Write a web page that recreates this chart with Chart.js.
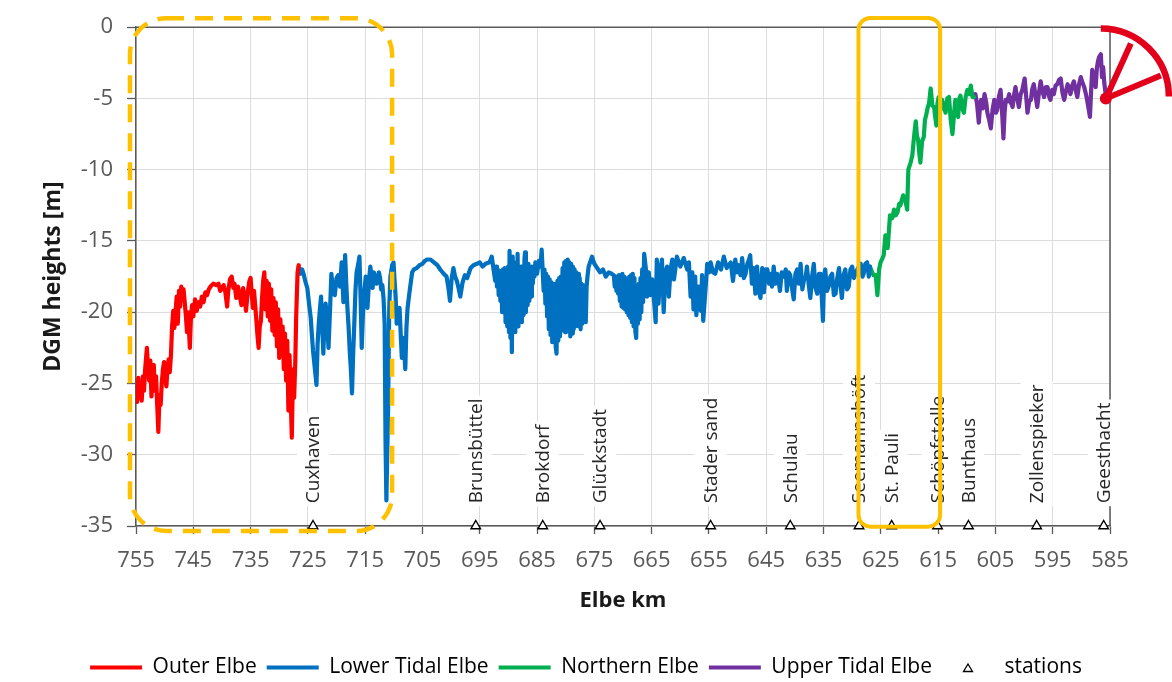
<!DOCTYPE html>
<html>
<head>
<meta charset="utf-8">
<script src="https://cdn.jsdelivr.net/npm/chart.js@4.4.1/dist/chart.umd.min.js"></script>
<style>
  html, body { margin: 0; padding: 0; background: #fff; }
  #wrap { width: 1172px; height: 682px; }
</style>
</head>
<body>
<div id="wrap"><canvas id="c" width="1172" height="682"></canvas></div>
<script>
const FONT = "'Open Sans', 'Noto Sans', sans-serif";

// [Elbe km, DGM height m]
const outerElbe = [
  [755,-25.0],[754.8,-26.3],[754.6,-24.6],[754.4,-26.0],[754.2,-25.0],[754.0,-26.2],[753.8,-24.5],[753.6,-25.5],
  [753.4,-24.0],[753.1,-22.5],[752.9,-23.8],[752.7,-24.8],[752.5,-23.4],[752.3,-25.9],[752.1,-24.0],[751.9,-23.7],
  [751.7,-25.5],[751.5,-24.5],[751.3,-26.5],[751.1,-28.4],[750.9,-25.8],[750.7,-26.5],[750.5,-25.0],[750.3,-24.0],
  [750.1,-23.5],[749.9,-24.6],[749.7,-25.2],[749.5,-24.0],[749.3,-23.3],[749.1,-24.2],[748.9,-23.0],[748.7,-21.0],
  [748.5,-19.9],[748.3,-21.1],[748.1,-20.0],[747.9,-18.9],[747.7,-20.8],[747.5,-18.5],[747.3,-19.6],[747.1,-18.2],
  [746.9,-19.0],[746.7,-18.4],[746.5,-19.3],[746.3,-20.2],[746.1,-21.4],[745.9,-20.0],[745.6,-22.5],[745.4,-20.2],
  [745.2,-19.5],[745.0,-20.3],[744.7,-19.1],[744.4,-19.9],[744.1,-19.3],[743.8,-19.6],[743.5,-18.9],[743.2,-19.3],
  [742.9,-18.6],[742.6,-18.8],[742.3,-18.4],[742.0,-18.2],[741.5,-18.0],[741.0,-18.1],[740.6,-18.0],[740.3,-18.5],
  [740.0,-18.3],[739.7,-18.1],[739.4,-18.6],[739.1,-19.6],[738.9,-18.5],[738.6,-17.7],[738.3,-17.5],[738.0,-18.3],
  [737.8,-18.0],[737.5,-19.0],[737.2,-18.2],[736.9,-18.8],[736.6,-19.5],[736.3,-18.3],[736.0,-19.2],[735.8,-19.9],
  [735.5,-18.6],[735.2,-17.8],[735.0,-17.6],[734.8,-18.7],[734.6,-19.7],[734.4,-18.5],[734.2,-19.5],[734.0,-20.5],
  [733.8,-21.6],[733.6,-22.5],[733.4,-21.0],[733.2,-20.6],[733.0,-19.0],[732.8,-17.8],[732.6,-17.2],[732.4,-19.8],
  [732.2,-17.8],[732.0,-20.3],[731.8,-18.0],[731.6,-20.6],[731.4,-18.4],[731.2,-21.3],[731.0,-19.0],[730.8,-21.6],
  [730.6,-19.3],[730.4,-22.4],[730.2,-19.8],[730.0,-23.2],[729.8,-20.5],[729.6,-23.0],[729.4,-21.0],[729.2,-24.0],
  [729.0,-21.5],[728.8,-24.8],[728.6,-22.0],[728.4,-26.9],[728.2,-23.0],[728.0,-26.0],[727.8,-28.8],[727.6,-24.0],
  [727.4,-26.0],[727.2,-23.5],[727.05,-20.4],[726.8,-17.2],[726.6,-16.7]
];

const lowerTidalElbe = [
  [726.6,-16.8],[726.3,-17.3],[726.0,-17.0],[725.7,-17.4],[725.4,-17.9],[725.1,-18.3],[724.8,-19.4],[724.5,-20.4],
  [724.3,-21.6],[724.1,-22.7],[723.8,-23.9],[723.5,-25.1],[723.3,-22.2],[723.1,-20.8],[722.9,-19.8],[722.7,-18.9],
  [722.5,-21.0],[722.3,-22.9],[722.1,-20.5],[721.9,-19.4],[721.6,-21.0],[721.4,-22.5],[721.1,-19.5],[720.9,-17.3],
  [720.6,-18.6],[720.3,-18.8],[720.0,-17.6],[719.7,-17.4],[719.4,-18.2],[719.1,-16.5],[718.8,-19.3],[718.5,-16.0],
  [718.3,-18.0],[718.1,-19.7],[717.9,-21.0],[717.7,-22.7],[717.5,-24.0],[717.3,-25.7],[717.1,-23.0],[716.9,-20.8],
  [716.7,-18.5],[716.5,-17.2],[716.2,-16.6],[716.0,-16.1],[715.8,-19.0],[715.6,-22.5],[715.4,-20.2],[715.2,-18.8],
  [714.9,-17.5],[714.6,-19.7],[714.3,-17.6],[714.1,-16.8],[713.9,-17.5],[713.7,-18.3],[713.5,-17.2],[713.3,-17.4],
  [713.0,-18.0],[712.8,-17.8],[712.6,-17.2],[712.4,-17.6],[712.2,-18.4],[712.0,-18.1],[711.8,-19.0],[711.6,-20.8],
  [711.45,-29.0],[711.3,-33.2],[711.15,-30.0],[711.0,-26.8],[710.8,-19.7],[710.6,-17.5],[710.3,-16.7],[710.05,-16.5],
  [709.9,-17.6],[709.7,-18.8],[709.5,-20.8],[709.2,-19.9],[709.0,-19.7],[708.8,-21.5],[708.6,-23.2],[708.4,-21.8],
  [708.2,-22.5],[708.0,-24.0],[707.8,-21.1],[707.6,-19.7],[707.3,-18.7],[707.1,-18.1],[706.8,-17.2],[706.5,-17.0],
  [706.0,-16.9],[705.5,-16.7],[705.0,-16.6],[704.6,-16.4],[704.2,-16.3],[703.6,-16.3],[703.0,-16.5],[702.4,-16.7],
  [701.9,-17.0],[701.3,-17.3],[700.8,-17.5],[700.5,-18.2],[700.2,-19.2],[699.9,-17.6],[699.6,-16.9],[699.3,-17.5],
  [699.0,-17.8],[698.7,-18.3],[698.4,-18.9],[698.0,-17.9],[697.6,-17.4],[697.2,-17.6],[696.6,-16.9],[696.1,-16.7],
  [695.5,-16.6],[695.0,-16.5],[694.5,-16.8],[694.0,-16.6],[693.3,-16.5],[692.9,-16.1],[692.6,-17.0],
  [692.30,-17.8],[692.15,-16.8],[692.00,-18.2],[691.85,-17.0],[691.70,-18.8],[691.55,-17.3],[691.40,-19.2],[691.25,-17.1],
  [691.10,-20.0],[690.95,-17.0],[690.80,-19.6],[690.65,-16.9],[690.50,-20.7],[690.35,-17.2],[690.20,-21.0],[690.05,-16.8],
  [689.90,-21.4],[689.80,-15.7],[689.65,-21.8],[689.50,-17.0],[689.40,-22.8],[689.25,-16.1],[689.10,-21.3],[688.95,-17.2],
  [688.80,-21.4],[688.65,-16.5],[688.50,-20.8],[688.40,-15.9],[688.25,-21.0],[688.10,-17.0],[687.95,-20.6],[687.80,-16.8],
  [687.65,-20.7],[687.50,-16.9],[687.35,-20.2],[687.20,-16.3],[687.10,-15.8],[686.95,-20.0],[686.80,-16.9],[686.65,-19.5],
  [686.50,-16.6],[686.35,-19.2],[686.20,-16.9],[686.05,-18.9],[685.90,-16.8],[685.75,-18.0],[685.60,-17.0],[685.45,-17.5],
  [685.30,-16.5],[685.0,-17.3],[684.7,-16.4],[684.4,-16.8],[684.2,-15.6],
  [684.00,-17.2],[683.85,-18.5],[683.70,-17.0],[683.55,-19.4],[683.40,-17.3],[683.25,-20.3],[683.10,-17.5],[682.95,-21.2],
  [682.80,-17.7],[682.65,-21.6],[682.50,-17.9],[682.35,-22.1],[682.20,-18.0],[682.05,-22.0],[681.90,-18.2],[681.75,-22.4],
  [681.60,-22.9],[681.45,-17.8],[681.30,-22.0],[681.15,-17.6],[681.00,-21.7],[680.85,-17.5],[680.70,-21.3],[680.55,-16.9],
  [680.40,-21.0],[680.25,-16.5],[680.10,-21.4],[679.95,-16.4],[679.80,-21.2],[679.65,-16.3],[679.50,-21.3],[679.35,-16.5],
  [679.20,-21.7],[679.05,-16.6],[678.90,-21.5],[678.75,-16.8],[678.60,-21.2],[678.45,-17.0],[678.30,-21.0],[678.15,-17.2],
  [678.00,-20.8],[677.85,-17.3],[677.70,-21.0],[677.55,-17.6],[677.40,-21.2],[677.25,-18.0],[677.10,-20.8],[676.95,-18.1],
  [676.80,-20.5],[676.65,-18.2],[676.50,-20.7],[676.35,-18.2],[676.20,-17.5],[676.0,-16.8],[675.4,-16.1],
  [675.0,-16.6],[674.5,-16.9],[674.0,-17.2],[673.5,-17.0],[673.0,-17.5],[672.5,-17.2],[672.0,-17.3],
  [671.60,-17.4],[671.45,-18.2],[671.30,-17.5],[671.15,-18.5],[671.00,-17.5],[670.85,-18.7],[670.70,-17.4],[670.55,-19.2],
  [670.40,-17.4],[670.25,-19.6],[670.10,-17.3],[669.95,-19.7],[669.80,-17.5],[669.65,-19.8],[669.50,-17.6],[669.35,-20.0],
  [669.20,-17.7],[669.05,-20.2],[668.90,-17.5],[668.75,-20.4],[668.60,-17.4],[668.45,-20.7],[668.30,-17.3],[668.15,-21.0],
  [668.00,-17.6],[667.85,-21.3],[667.70,-21.8],[667.55,-18.2],[667.40,-20.8],[667.25,-18.0],[667.10,-20.5],[666.95,-17.6],
  [666.80,-20.0],[666.65,-17.0],[666.50,-19.3],[666.30,-15.9],
  [666.0,-17.0],[665.8,-18.9],[665.5,-17.2],[665.2,-18.8],[664.9,-17.7],[664.6,-19.1],[664.3,-20.7],[664.1,-16.3],
  [663.8,-19.4],[663.5,-17.0],[663.2,-16.3],[662.9,-20.0],[662.6,-17.2],[662.3,-16.8],[662.0,-18.9],[661.7,-17.0],
  [661.4,-16.3],[661.1,-17.7],[660.6,-16.1],[660.0,-16.8],[659.4,-16.2],[658.8,-17.0],[658.5,-16.5],[658.2,-18.9],
  [657.9,-17.2],[657.7,-19.8],[657.4,-17.5],[657.2,-20.2],[656.8,-18.2],[656.4,-19.9],[656.2,-17.4],[656.0,-20.6],
  [655.6,-18.4],[655.3,-16.6],[655.0,-17.2],[654.7,-16.5],[654.3,-17.2],[653.9,-17.3],[653.4,-16.5],[652.9,-17.0],
  [652.4,-16.1],[651.9,-16.9],[651.2,-16.5],[650.8,-17.8],[650.4,-16.3],[650.1,-17.2],[649.8,-16.7],[649.5,-17.4],
  [649.2,-16.2],[648.9,-17.6],[648.6,-17.3],[648.3,-16.6],[648.0,-16.3],[647.8,-16.0],[647.5,-18.0],[647.2,-16.9],
  [646.9,-18.7],[646.6,-16.8],[646.3,-18.5],[646.0,-19.0],[645.7,-16.9],[645.4,-18.6],[645.1,-17.0],[644.8,-17.0],
  [644.5,-18.0],[644.3,-17.3],[644.0,-18.2],[643.7,-16.8],[643.4,-18.0],[643.1,-17.3],[642.9,-17.6],[642.6,-18.5],
  [642.3,-17.2],[641.9,-17.5],[641.6,-17.0],[641.4,-18.5],[641.1,-17.2],[640.8,-17.4],[640.5,-18.3],[640.2,-19.1],
  [639.9,-17.3],[639.6,-17.0],[639.3,-18.0],[639.0,-16.6],[638.7,-18.4],[638.4,-17.7],[638.1,-17.5],[637.9,-16.8],
  [637.6,-18.0],[637.3,-19.0],[637.0,-17.5],[636.7,-16.6],[636.4,-18.3],[636.1,-18.7],[635.8,-17.3],[635.5,-17.3],
  [635.3,-19.0],[635.1,-20.6],[634.9,-17.4],[634.7,-17.0],[634.4,-18.5],[634.1,-18.2],[633.8,-17.5],[633.5,-17.3],
  [633.2,-18.8],[632.9,-18.7],[632.6,-17.6],[632.3,-16.9],[632.0,-18.2],[631.8,-19.0],[631.5,-17.4],[631.2,-17.0],
  [630.9,-18.4],[630.6,-18.2],[630.3,-17.0],[630.0,-16.8],[629.7,-17.6],[629.4,-17.3],[629.0,-16.9],[628.5,-16.6],
  [628.2,-17.5],[628.0,-17.3],[627.7,-16.6],[627.4,-16.5],[627.1,-17.5],[626.9,-16.8]
];

const northernElbe = [
  [626.9,-16.8],[626.3,-17.4],[625.9,-17.4],[625.6,-18.8],[625.3,-17.0],[625.05,-16.5],[624.7,-16.2],[624.5,-16.0],
  [624.2,-14.6],[623.8,-15.5],[623.4,-13.2],[623.0,-13.4],[622.7,-12.8],[622.4,-13.2],[622.1,-13.0],[621.8,-12.4],
  [621.6,-12.5],[621.1,-11.8],[620.7,-12.2],[620.4,-12.8],[620.2,-10.0],[619.8,-9.5],[619.5,-9.0],[619.3,-8.1],
  [619.1,-7.3],[618.9,-6.6],[618.7,-7.6],[618.5,-7.9],[618.3,-8.8],[618.1,-9.5],[617.8,-8.0],[617.5,-7.7],
  [617.3,-6.5],[617.1,-6.2],[616.8,-5.6],[616.6,-5.4],[616.3,-4.3],[616.0,-5.5],[615.7,-5.6],[615.5,-6.3],
  [615.3,-6.9],[615.1,-5.3],[614.9,-4.9],[614.6,-5.8],[614.3,-5.1],[614.0,-5.6],[613.7,-6.0],[613.4,-5.0],
  [613.1,-4.9],[612.8,-6.5],[612.5,-7.5],[612.2,-6.0],[612.0,-5.1],[611.7,-6.0],[611.5,-6.3],[611.3,-5.0],
  [611.1,-4.8],[610.8,-5.7],[610.5,-6.0],[610.2,-4.9],[609.9,-4.4],[609.6,-4.7],[609.3,-4.1],[609.0,-4.9],
  [608.7,-4.9]
];

const upperTidalElbe = [
  [608.7,-4.9],[608.5,-4.7],[608.2,-5.4],[607.9,-6.7],[607.7,-5.6],[607.5,-5.1],[607.2,-5.7],[606.9,-4.7],
  [606.6,-5.3],[606.4,-6.0],[606.1,-6.5],[605.8,-7.1],[605.5,-5.8],[605.2,-5.1],[604.9,-6.0],[604.7,-5.8],
  [604.4,-4.9],[604.1,-4.4],[603.8,-6.2],[603.6,-7.8],[603.4,-6.0],[603.2,-5.1],[602.9,-5.2],[602.6,-4.7],
  [602.3,-5.3],[602.0,-5.6],[601.8,-4.9],[601.5,-4.2],[601.2,-5.0],[600.9,-5.6],[600.6,-4.7],[600.3,-4.4],
  [600.1,-4.0],[599.9,-3.6],[599.6,-5.0],[599.4,-6.0],[599.1,-5.2],[598.8,-5.1],[598.6,-4.4],[598.3,-4.0],
  [598.0,-4.8],[597.7,-5.6],[597.4,-4.6],[597.1,-3.8],[596.8,-4.5],[596.5,-4.9],[596.2,-4.2],[595.9,-4.2],
  [595.6,-4.9],[595.4,-5.1],[595.1,-4.4],[594.8,-4.7],[594.5,-4.1],[594.2,-4.0],[593.9,-3.7],[593.6,-3.6],
  [593.3,-4.6],[593.0,-5.1],[592.7,-4.5],[592.4,-4.0],[592.1,-4.3],[591.9,-4.7],[591.6,-4.1],[591.3,-3.8],
  [591.0,-4.4],[590.7,-4.9],[590.4,-4.0],[590.1,-3.5],[589.8,-3.9],[589.5,-4.2],[589.2,-4.7],[589.0,-5.1],
  [588.7,-5.8],[588.5,-6.3],[588.3,-4.5],[588.1,-3.0],[587.8,-3.8],[587.5,-4.2],[587.3,-2.9],[587.1,-2.4],
  [586.9,-2.1],[586.6,-1.9],[586.4,-3.5],[586.2,-2.8],[586.0,-3.9],[585.7,-4.9],[585.5,-4.5]
];

const stationNames = ["Cuxhaven", "Brunsbüttel", "Brokdorf", "Glückstadt", "Stader sand", "Schulau",
  "Seemannshöft", "St. Pauli", "Schöpfstelle", "Bunthaus", "Zollenspieker", "Geesthacht"];
const stationKm = [724.1, 695.7, 684.0, 674.0, 654.7, 640.8, 628.8, 623.1, 615.1, 609.7, 597.8, 586.1];
const stationZ = [-35, -35, -35, -35, -35, -35, -35, -35, -35, -35, -35, -35];

const seriesLabels = ["Outer Elbe", "Lower Tidal Elbe", "Northern Elbe", "Upper Tidal Elbe", "stations"];
const seriesColors = ["#FF0000", "#0070C0", "#00B050", "#7030A0", "#000000"];

// where station names start (m), and the two highlight frames [km left, km right, top m, bottom m]
const labelBase = -33.4;
const dashedFrame = [756.05, 710.3, 0.63, -35.35];
const solidFrame = [628.9, 614.65, 0.65, -35.05];
const angleMark = [586.6, -4.86];

const toXY = pts => pts.map(([x, y]) => ({ x, y }));

function lineSet(i, pts) {
  return {
    type: "line",
    label: seriesLabels[i],
    data: toXY(pts),
    borderColor: seriesColors[i],
    backgroundColor: seriesColors[i],
    borderWidth: 4.2,
    borderJoinStyle: "round",
    borderCapStyle: "round",
    pointRadius: 0,
    tension: 0,
    fill: false,
    order: 1
  };
}

// small triangle for the legend
const triIcon = document.createElement("canvas");
triIcon.width = 12; triIcon.height = 11;
(() => {
  const g = triIcon.getContext("2d");
  g.strokeStyle = "#000"; g.lineWidth = 1.3; g.fillStyle = "#fff";
  g.beginPath(); g.moveTo(6, 2); g.lineTo(10.5, 9.5); g.lineTo(1.5, 9.5); g.closePath();
  g.fill(); g.stroke();
})();

function roundRectPath(ctx, x0, y0, x1, y1, r) {
  ctx.beginPath();
  ctx.moveTo(x0 + r, y0);
  ctx.arcTo(x1, y0, x1, y1, r);
  ctx.arcTo(x1, y1, x0, y1, r);
  ctx.arcTo(x0, y1, x0, y0, r);
  ctx.arcTo(x0, y0, x1, y0, r);
  ctx.closePath();
}

const backdrop = {
  id: "backdrop",
  beforeDatasetsDraw(chart) {
    const { ctx, chartArea: a, scales: { x, y } } = chart;
    ctx.save();
    ctx.strokeStyle = "#5a5a5a";
    ctx.lineWidth = 1.5;
    ctx.beginPath();
    ctx.moveTo(a.left, a.top); ctx.lineTo(a.right, a.top); ctx.lineTo(a.right, a.bottom);
    ctx.stroke();

    ctx.font = `19px ${FONT}`;
    ctx.textBaseline = "middle";
    ctx.textAlign = "left";
    stationNames.forEach((name, i) => {
      const px = x.getPixelForValue(stationKm[i]);
      const py = y.getPixelForValue(labelBase);
      const w = ctx.measureText(name).width;
      ctx.save();
      ctx.translate(px, py);
      ctx.rotate(-Math.PI / 2);
      ctx.fillStyle = "#fff";
      ctx.fillRect(-3, -16, w + 6, 32);
      ctx.fillStyle = "#262626";
      ctx.fillText(name, 0, 1);
      ctx.restore();
    });
    ctx.restore();
  }
};

const marks = {
  id: "marks",
  afterDraw(chart) {
    const { ctx, scales: { x, y } } = chart;
    ctx.save();
    ctx.strokeStyle = "#FFC000";

    ctx.lineWidth = 4.5;
    ctx.setLineDash([18, 11]);
    roundRectPath(ctx, x.getPixelForValue(dashedFrame[0]), y.getPixelForValue(dashedFrame[2]),
      x.getPixelForValue(dashedFrame[1]), y.getPixelForValue(dashedFrame[3]), 36);
    ctx.stroke();

    ctx.setLineDash([]);
    ctx.lineWidth = 4;
    roundRectPath(ctx, x.getPixelForValue(solidFrame[0]), y.getPixelForValue(solidFrame[2]),
      x.getPixelForValue(solidFrame[1]), y.getPixelForValue(solidFrame[3]), 12);
    ctx.stroke();

    // red angle sign at the upstream end
    const cx = x.getPixelForValue(angleMark[0]), cy = y.getPixelForValue(angleMark[1]);
    ctx.strokeStyle = "#E3001B";
    ctx.fillStyle = "#E3001B";
    ctx.lineWidth = 6.5;
    ctx.beginPath();
    ctx.arc(cx, cy, 68, -Math.PI / 2, 0);
    ctx.stroke();
    const dx = cx + 5, dy = cy + 2;
    ctx.lineWidth = 6;
    ctx.beginPath();
    ctx.moveTo(dx, dy); ctx.lineTo(dx + 25, dy - 55);
    ctx.moveTo(dx, dy); ctx.lineTo(dx + 55, dy - 23);
    ctx.stroke();
    ctx.beginPath();
    ctx.arc(dx, dy, 6, 0, Math.PI * 2);
    ctx.fill();
    ctx.restore();
  }
};

const tickFont = { family: FONT, size: 22 };
const gridColor = "#dcdcdc";
const axisColor = "#5a5a5a";

new Chart(document.getElementById("c"), {
  data: {
    datasets: [
      lineSet(0, outerElbe),
      lineSet(1, lowerTidalElbe),
      lineSet(2, northernElbe),
      lineSet(3, upperTidalElbe),
      {
        type: "scatter",
        label: seriesLabels[4],
        data: stationKm.map((k, i) => ({ x: k, y: stationZ[i] })),
        pointStyle: "triangle",
        pointRadius: 5.5,
        pointBackgroundColor: "#fff",
        pointBorderColor: seriesColors[4],
        pointBorderWidth: 1.4,
        clip: false,
        order: 0
      }
    ]
  },
  options: {
    responsive: false,
    animation: false,
    layout: { padding: { top: 23, left: 0, right: 0, bottom: -6 } },
    plugins: {
      tooltip: { enabled: false },
      legend: {
        position: "bottom",
        labels: {
          usePointStyle: true,
          pointStyleWidth: 52,
          padding: 10,
          color: "#262626",
          font: { family: FONT, size: 21 },
          generateLabels: chart => chart.data.datasets.map((d, i) => ({
            text: d.label,
            fillStyle: i < 4 ? seriesColors[i] : "#fff",
            strokeStyle: seriesColors[i],
            lineWidth: 4,
            pointStyle: i < 4 ? "line" : triIcon,
            hidden: false,
            datasetIndex: i
          }))
        }
      }
    },
    scales: {
      x: {
        type: "linear",
        reverse: true,
        min: 585,
        max: 755,
        afterFit: s => { s.height = 121; },
        ticks: { stepSize: 10, autoSkip: false, maxRotation: 0, font: tickFont, color: "#595959", padding: 14 },
        grid: { color: gridColor, tickLength: 8, tickColor: axisColor, tickWidth: 1.3 },
        border: { color: axisColor, width: 1.5 },
        title: {
          display: true, text: "Elbe km", color: "#1a1a1a",
          font: { family: FONT, size: 22, weight: "bold" },
          padding: { top: 0, bottom: 33 }
        }
      },
      y: {
        type: "linear",
        min: -35,
        max: 0,
        afterFit: s => { s.width = 136; },
        ticks: { stepSize: 5, font: tickFont, color: "#595959", padding: 14 },
        grid: { color: gridColor, tickLength: 9, tickColor: axisColor, tickWidth: 1.3 },
        border: { color: axisColor, width: 1.5 },
        title: {
          display: true, text: "DGM heights [m]", color: "#1a1a1a",
          font: { family: FONT, size: 23, weight: "bold" },
          padding: { top: 40, bottom: 0 }
        }
      },
      yRight: {
        type: "linear",
        position: "right",
        display: true,
        afterFit: s => { s.width = 62; },
        ticks: { display: false },
        grid: { display: false, drawTicks: false },
        border: { display: false }
      }
    }
  },
  plugins: [backdrop, marks]
});
</script>
</body>
</html>
